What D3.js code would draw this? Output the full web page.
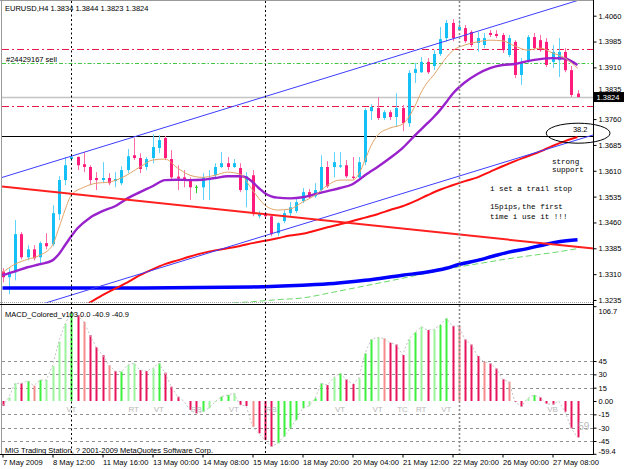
<!DOCTYPE html>
<meta charset="utf-8">
<style type="text/css">
	body { margin: 0; background: #ffffff; }
	svg { display: block; }
	text {
		font-family: "Liberation Sans", Arial, sans-serif;
		font-size: 7.5px;
		fill: #000000;
	}
	.note-text {
		font-family: "Liberation Mono", monospace;
		font-size: 7.6px;
	}
	.axis path { display: none; }
	.axis line { stroke: #000000; }
	.date-axis text { font-size: 7.6px; }
	.mark-text { fill: #b8b8b8; font-size: 8px; }
</style>

<div class="vis-chart"></div>

<script src="https://d3js.org/d3.v7.min.js"></script>
<script>

// ---- //
// Data //
// ---- //

// EURUSD H4 candles, bar 0 = 7 May 2009 04:00
const open = [1.3318, 1.3301, 1.3315, 1.3426, 1.3359, 1.3382, 1.3359, 1.3400, 1.3397, 1.3484,
	1.3583, 1.3644, 1.3650, 1.3629, 1.3621, 1.3589, 1.3583, 1.3589, 1.3580, 1.3574,
	1.3612, 1.3655, 1.3647, 1.3621, 1.3647, 1.3676, 1.3705, 1.3644, 1.3593, 1.3591,
	1.3586, 1.3562, 1.3562, 1.3583, 1.3597, 1.3621, 1.3632, 1.3621, 1.3618, 1.3554,
	1.3597, 1.3478, 1.3487, 1.3478, 1.3429, 1.3464, 1.3487, 1.3493, 1.3522, 1.3548,
	1.3536, 1.3554, 1.3621, 1.3621, 1.3622, 1.3626, 1.3593, 1.3591, 1.3635, 1.3783,
	1.3792, 1.3763, 1.3780, 1.3766, 1.3792, 1.3748, 1.3894, 1.3896, 1.3926, 1.3914,
	1.3949, 1.3995, 1.4039, 1.4018, 1.4024, 1.4013, 1.3981, 1.3975, 1.4010, 1.4007,
	1.4004, 1.3946, 1.3984, 1.3888, 1.3926, 1.3998, 1.3989, 1.3984, 1.3926, 1.3931,
	1.3955, 1.3902, 1.3834];
const high = [1.3327, 1.3327, 1.3467, 1.3432, 1.3394, 1.3394, 1.3405, 1.3429, 1.3510, 1.3594,
	1.3650, 1.3658, 1.3652, 1.3664, 1.3626, 1.3606, 1.3635, 1.3603, 1.3606, 1.3623,
	1.3673, 1.3705, 1.3661, 1.3650, 1.3716, 1.3713, 1.3711, 1.3670, 1.3626, 1.3612,
	1.3591, 1.3568, 1.3603, 1.3612, 1.3632, 1.3664, 1.3650, 1.3644, 1.3632, 1.3606,
	1.3612, 1.3493, 1.3490, 1.3484, 1.3461, 1.3496, 1.3519, 1.3528, 1.3560, 1.3557,
	1.3574, 1.3655, 1.3638, 1.3664, 1.3664, 1.3641, 1.3650, 1.3650, 1.3792, 1.3803,
	1.3824, 1.3786, 1.3786, 1.3835, 1.3801, 1.3902, 1.3923, 1.3940, 1.3937, 1.3960,
	1.4027, 1.4048, 1.4050, 1.4048, 1.4033, 1.4018, 1.4013, 1.4010, 1.4018, 1.4018,
	1.4010, 1.4004, 1.3989, 1.3937, 1.4004, 1.4010, 1.4004, 1.3995, 1.3975, 1.3995,
	1.3966, 1.3914, 1.3844];
const low = [1.3286, 1.3252, 1.3292, 1.3353, 1.3350, 1.3350, 1.3336, 1.3382, 1.3391, 1.3467,
	1.3568, 1.3638, 1.3612, 1.3606, 1.3568, 1.3554, 1.3574, 1.3568, 1.3562, 1.3568,
	1.3603, 1.3641, 1.3603, 1.3612, 1.3632, 1.3661, 1.3641, 1.3586, 1.3554, 1.3562,
	1.3525, 1.3545, 1.3525, 1.3525, 1.3591, 1.3618, 1.3612, 1.3618, 1.3548, 1.3504,
	1.3478, 1.3472, 1.3472, 1.3420, 1.3420, 1.3458, 1.3478, 1.3487, 1.3516, 1.3528,
	1.3531, 1.3548, 1.3560, 1.3591, 1.3618, 1.3589, 1.3583, 1.3583, 1.3626, 1.3757,
	1.3757, 1.3757, 1.3757, 1.3737, 1.3725, 1.3737, 1.3865, 1.3894, 1.3891, 1.3902,
	1.3943, 1.3984, 1.3986, 1.4016, 1.3981, 1.3969, 1.3955, 1.3966, 1.3998, 1.3995,
	1.3952, 1.3940, 1.3879, 1.3859, 1.3923, 1.3960, 1.3955, 1.3911, 1.3908, 1.3882,
	1.3896, 1.3824, 1.3823];
const close = [1.3301, 1.3315, 1.3426, 1.3359, 1.3382, 1.3356, 1.3400, 1.3391, 1.3487, 1.3583,
	1.3626, 1.3650, 1.3626, 1.3621, 1.3583, 1.3583, 1.3589, 1.3574, 1.3586, 1.3612,
	1.3652, 1.3647, 1.3615, 1.3644, 1.3679, 1.3699, 1.3647, 1.3591, 1.3587, 1.3586,
	1.3562, 1.3562, 1.3591, 1.3589, 1.3621, 1.3632, 1.3621, 1.3632, 1.3554, 1.3594,
	1.3484, 1.3487, 1.3478, 1.3426, 1.3458, 1.3487, 1.3504, 1.3519, 1.3548, 1.3533,
	1.3554, 1.3621, 1.3565, 1.3635, 1.3626, 1.3594, 1.3589, 1.3635, 1.3786, 1.3795,
	1.3763, 1.3780, 1.3766, 1.3792, 1.3748, 1.3894, 1.3905, 1.3926, 1.3896, 1.3949,
	1.3992, 1.4039, 1.3995, 1.4027, 1.3986, 1.3975, 1.3995, 1.3995, 1.4004, 1.4001,
	1.3960, 1.3995, 1.3888, 1.3926, 1.3998, 1.3966, 1.3960, 1.3917, 1.3955, 1.3955,
	1.3902, 1.3830, 1.3824];

// Moving averages, read at sample bars
const tanBars = [0, 2, 4, 6, 8, 9, 10, 11, 13, 15, 17, 19, 22, 24, 26, 28, 30, 32, 34, 36,
	38, 40, 42, 44, 46, 48, 50, 52, 54, 56, 57, 58, 59, 60, 62, 64, 65, 66, 67, 68,
	69, 70, 72, 74, 76, 78, 80, 82, 84, 86, 88, 90, 92];
const tanVals = [1.3315, 1.3339, 1.3353, 1.3365, 1.3394, 1.3443, 1.3496, 1.3539, 1.3562, 1.3574,
	1.3577, 1.3589, 1.3621, 1.3641, 1.3644, 1.3618, 1.3597, 1.3591, 1.3597, 1.3606,
	1.3600, 1.3554, 1.3510, 1.3496, 1.3499, 1.3519, 1.3539, 1.3568, 1.3583, 1.3583,
	1.3600, 1.3641, 1.3684, 1.3713, 1.3734, 1.3745, 1.3766, 1.3798, 1.3838, 1.3867,
	1.3888, 1.3914, 1.3958, 1.3975, 1.3984, 1.3989, 1.3987, 1.3972, 1.3960, 1.3966,
	1.3952, 1.3937, 1.3908];

const purpleBars = [0, 2, 4, 6, 8, 9, 10, 11, 12, 14, 16, 18, 20, 22, 24, 26, 28, 30, 32, 34,
	36, 38, 39, 40, 41, 42, 43, 44, 46, 48, 50, 52, 54, 56, 57, 58, 59, 60, 62, 64,
	66, 68, 69, 70, 71, 72, 74, 76, 78, 80, 82, 84, 86, 88, 90, 91, 92];
const purpleVals = [1.3307, 1.3318, 1.3330, 1.3339, 1.3350, 1.3368, 1.3394, 1.3420, 1.3443, 1.3474,
	1.3493, 1.3507, 1.3530, 1.3548, 1.3565, 1.3583, 1.3584, 1.3583, 1.3584, 1.3589,
	1.3594, 1.3594, 1.3591, 1.3577, 1.3560, 1.3545, 1.3536, 1.3532, 1.3530, 1.3533,
	1.3542, 1.3551, 1.3560, 1.3571, 1.3583, 1.3597, 1.3609, 1.3621, 1.3647, 1.3676,
	1.3713, 1.3748, 1.3766, 1.3786, 1.3809, 1.3833, 1.3867, 1.3891, 1.3908, 1.3917,
	1.3920, 1.3928, 1.3934, 1.3937, 1.3936, 1.3928, 1.3917];

const redBars = [12, 14, 16, 18, 20, 22, 24, 26, 28, 30, 32, 34, 36, 38, 40, 42, 44, 46, 48, 50,
	52, 54, 56, 58, 60, 62, 64, 66, 68, 70, 72, 74, 76, 78, 80, 82, 84, 86, 88, 90, 92];
const redVals = [1.3208, 1.3228, 1.3249, 1.3268, 1.3286, 1.3307, 1.3324, 1.3339, 1.3350, 1.3361,
	1.3371, 1.3379, 1.3385, 1.3392, 1.3400, 1.3407, 1.3414, 1.3422, 1.3427, 1.3436,
	1.3446, 1.3455, 1.3464, 1.3474, 1.3484, 1.3496, 1.3507, 1.3522, 1.3539, 1.3555,
	1.3568, 1.3580, 1.3591, 1.3607, 1.3623, 1.3638, 1.3652, 1.3666, 1.3682, 1.3696, 1.3708];

const blueBars = [0, 20, 40, 48, 53, 58, 64, 68, 71, 73, 76, 79, 81, 84, 87, 89, 92];
const blueVals = [1.3270, 1.3270, 1.3273, 1.3278, 1.3283, 1.3292, 1.3307, 1.3316, 1.3327, 1.3338,
	1.3350, 1.3365, 1.3374, 1.3384, 1.3397, 1.3404, 1.3410];

const greenBars = [34, 36, 40, 44, 48, 53, 58, 64, 69, 73, 77, 81, 85, 89, 92];
const greenVals = [1.3220, 1.3225, 1.3230, 1.3236, 1.3241, 1.3258, 1.3276, 1.3298, 1.3317, 1.3331,
	1.3343, 1.3355, 1.3365, 1.3375, 1.3384];

// Drawn objects: [bar, price] anchor pairs
const channelUp = [[0, 1.3591], [92, 1.4104]];
const channelDown = [[0, 1.3188], [92, 1.3700]];
const redTrend = [[0, 1.3564], [92, 1.3389]];
const ellipseCorners = [[87, 1.3748], [97.2, 1.3690]];
const orderPrices = [1.3962, 1.3922, 1.3798];
const orderKinds = ["red", "green", "red"];
const bidPrice = 1.3824;
const fibPrice = 1.3711;
const fibLabel = "38.2";
const orderLabel = "#24429167 sell";

const separatorBars = [11, 42, 73];

const noteLines = ["strong", "support", "i set a trail stop", "15pips,the first", "time i use it !!!"];
const noteBars = [87.9, 87.9, 78, 78, 78];
const notePrices = [1.3629, 1.3606, 1.3552, 1.3500, 1.3471];

// Axis ticks
const priceTicks = [1.4060, 1.3985, 1.3910, 1.3835, 1.3760, 1.3685, 1.3610, 1.3535, 1.3460, 1.3385, 1.3310, 1.3235];
const dateBars = [0, 8, 16, 24, 32, 40, 48, 56, 64, 72, 80, 88];
const dateLabels = ["7 May 2009", "8 May 12:00", "11 May 16:00", "13 May 00:00", "14 May 08:00", "15 May 16:00",
	"18 May 20:00", "20 May 04:00", "21 May 12:00", "22 May 20:00", "26 May 00:00", "27 May 08:00"];

// MACD_Colored histogram
const macd = [-5.6, 4, 19.9, 19.9, 22.5, 17.2, 23.6, 23.6, 39.4, 66.7,
	86.6, 99.4, 96.7, 89.2, 74.2, 60.4, 51.7, 40.5, 33.7, 33,
	40.5, 42.4, 34.9, 33.7, 36.7, 42.4, 31.9, 16.1, 4.9, 0,
	-10.1, -13.9, -12, -8.2, -1, 4.9, 6.7, 8.6, -4.5, -5.6,
	-28.9, -36.4, -43.9, -51.4, -47.6, -40.1, -30.7, -21.3, -8.2, -5.6,
	3, 19.9, 18, 26.6, 31.1, 24.4, 19.1, 25.5, 53.6, 69.4,
	71.6, 70.5, 65.6, 63.7, 51.7, 69.4, 77.2, 83.6, 79.9, 80.6,
	85.5, 93, 84.4, 84.4, 69.4, 63.7, 50.6, 44.2, 42.4, 36.7,
	24.4, 21.8, -1, -6.4, 3, 6.7, 4.1, -3, -4, 0,
	-12, -30.7, -40.9];
const macdShade = ["R", "g", "g", "R", "G", "r", "G", "g", "g", "g",
	"g", "G", "R", "r", "R", "R", "R", "r", "R", "G",
	"g", "g", "R", "R", "g", "G", "R", "R", "R", "R",
	"R", "R", "G", "g", "g", "G", "G", "g", "R", "R",
	"r", "R", "R", "R", "G", "G", "G", "G", "G", "g",
	"G", "G", "R", "g", "G", "R", "R", "g", "G", "G",
	"g", "r", "R", "R", "R", "g", "G", "g", "R", "g",
	"G", "G", "R", "r", "R", "R", "R", "r", "R", "R",
	"R", "r", "R", "R", "g", "G", "R", "R", "R", "R",
	"R", "R", "R"];
const macdLevels = [45, 30, 15, -15, -30, -45];
const macdTicks = [106.7, 45, 30, 15, 0, -15, -30, -45, -59.4];
const markBars = [11, 21, 25, 31, 37, 43, 54, 60, 64, 67, 71, 88];
const markTexts = ["VT", "RT", "VT", "RB", "VT", "RB", "VT", "VT", "TC", "RT", "VT", "VB"];

// ----- //
// Setup //
// ----- //

const width = 625, height = 469;
const plotLeft = 2, plotRight = 593.5;
const mainTop = 1, mainBottom = 303;
const subTop = 306, subBottom = 454.5;

const colors = {
	bull: "#14c0f6", bear: "#ff1c7c",
	bullWick: "#5fd3fa", bearWick: "#ff6aa8",
	doji: "#22cc22",
	G: "#3cf03c", g: "#9cf59c", R: "#e8145a", r: "#f48c8c"
};

// Scales
let x = d3.scaleLinear().domain([0, 92]).range([2.5, 577.5]);
let y = d3.scaleLinear().domain([1.3235, 1.4060]).range([300, 15.7]);
let yM = d3.scaleLinear().domain([-59.4, 106.7]).range([453.8, 306.2]);

let svg = d3.select(".vis-chart")
	.append("svg")
		.attr("width", width)
		.attr("height", height);

svg.append("rect")
	.attr("width", width)
	.attr("height", height)
	.attr("fill", "#ffffff");

let defs = svg.append("defs");
defs.append("clipPath").attr("id", "clip-main")
	.append("rect")
		.attr("x", plotLeft).attr("y", mainTop)
		.attr("width", plotRight - plotLeft).attr("height", mainBottom - mainTop);
defs.append("clipPath").attr("id", "clip-sub")
	.append("rect")
		.attr("x", plotLeft).attr("y", subTop)
		.attr("width", plotRight - plotLeft).attr("height", subBottom - subTop);

let main = svg.append("g").attr("clip-path", "url(#clip-main)");
let sub = svg.append("g").attr("clip-path", "url(#clip-sub)");

// line through two anchors, stretched over the whole plot width
function ray(p) {
	let x1 = x(p[0][0]), y1 = y(p[0][1]), x2 = x(p[1][0]), y2 = y(p[1][1]);
	let k = (y2 - y1) / (x2 - x1);
	return [plotLeft, y1 + k * (plotLeft - x1), plotRight, y1 + k * (plotRight - x1)];
}

// ----------------- //
// Background lines  //
// ----------------- //

// Week separators
svg.selectAll(".sep")
	.data(separatorBars)
	.enter().append("line")
		.attr("class", "sep")
		.attr("x1", d => Math.round(x(d)) + 0.5)
		.attr("x2", d => Math.round(x(d)) + 0.5)
		.attr("y1", mainTop)
		.attr("y2", subBottom)
		.attr("stroke", (d, i) => i == 2 ? "#8c8c8c" : "#000000")
		.attr("stroke-width", (d, i) => i == 2 ? 1.6 : 1)
		.attr("stroke-dasharray", (d, i) => i == 2 ? "2,2" : "2,2.5");

// Order lines
main.selectAll(".order")
	.data(orderPrices)
	.enter().append("line")
		.attr("x1", plotLeft).attr("x2", plotRight)
		.attr("y1", d => Math.round(y(d)) + 0.5)
		.attr("y2", d => Math.round(y(d)) + 0.5)
		.attr("stroke", (d, i) => orderKinds[i] == "red" ? "#e81848" : "#44c444")
		.attr("stroke-dasharray", (d, i) => orderKinds[i] == "red" ? "7,3,2,3" : "4,2,1.5,2");

// Bid line
main.append("line")
	.attr("x1", plotLeft).attr("x2", plotRight)
	.attr("y1", y(bidPrice) + 0.5).attr("y2", y(bidPrice) + 0.5)
	.attr("stroke", "#c4c4c4")
	.attr("stroke-width", 1.6);

// Fibo level
main.append("line")
	.attr("x1", plotLeft).attr("x2", plotRight)
	.attr("y1", Math.round(y(fibPrice)) + 0.5).attr("y2", Math.round(y(fibPrice)) + 0.5)
	.attr("stroke", "#000000");

// ------- //
// Candles //
// ------- //

let candles = open.map((o, i) => ({ i: i, o: o, h: high[i], l: low[i], c: close[i] }));

main.selectAll(".wick")
	.data(candles)
	.enter().append("line")
		.attr("x1", d => Math.round(x(d.i)) + 0.5)
		.attr("x2", d => Math.round(x(d.i)) + 0.5)
		.attr("y1", d => y(d.h))
		.attr("y2", d => y(d.l))
		.attr("stroke", d => d.c > d.o ? colors.bullWick : d.c < d.o ? colors.bearWick : colors.doji);

main.selectAll(".body")
	.data(candles)
	.enter().append("rect")
		.attr("x", d => Math.round(x(d.i)) - 1)
		.attr("width", 3)
		.attr("y", d => d.c == d.o ? y(d.o) - 0.5 : y(Math.max(d.o, d.c)))
		.attr("height", d => Math.max(1, Math.abs(y(d.o) - y(d.c))))
		.attr("fill", d => d.c > d.o ? colors.bull : d.c < d.o ? colors.bear : colors.doji);

// ------------------ //
// Moving averages    //
// ------------------ //

let maLine = d3.line()
	.x(d => x(d[0]))
	.y(d => y(d[1]))
	.curve(d3.curveMonotoneX);

main.append("path")
	.datum(d3.zip(greenBars, greenVals))
	.attr("d", maLine)
	.attr("fill", "none")
	.attr("stroke", "#6cd86c")
	.attr("stroke-dasharray", "6,3");

main.append("path")
	.datum(d3.zip(blueBars, blueVals))
	.attr("d", maLine)
	.attr("fill", "none")
	.attr("stroke", "#0000ff")
	.attr("stroke-width", 3.5);

main.append("path")
	.datum(d3.zip(redBars, redVals))
	.attr("d", maLine)
	.attr("fill", "none")
	.attr("stroke", "#ff1010")
	.attr("stroke-width", 2);

main.append("path")
	.datum(d3.zip(purpleBars, purpleVals))
	.attr("d", maLine)
	.attr("fill", "none")
	.attr("stroke", "#9a22cc")
	.attr("stroke-width", 2.4);

main.append("path")
	.datum(d3.zip(tanBars, tanVals))
	.attr("d", maLine)
	.attr("fill", "none")
	.attr("stroke", "#e0a468")
	.attr("stroke-width", 1);

// ------------- //
// Trend objects //
// ------------- //

[channelUp, channelDown].forEach(p => {
	let r = ray(p);
	main.append("line")
		.attr("x1", r[0]).attr("y1", r[1]).attr("x2", r[2]).attr("y2", r[3])
		.attr("stroke", "#3c3cff");
});

let rt = ray(redTrend);
main.append("line")
	.attr("x1", rt[0]).attr("y1", rt[1]).attr("x2", rt[2]).attr("y2", rt[3])
	.attr("stroke", "#ff2020")
	.attr("stroke-width", 2);

// Ellipse (drawn over the price scale like in the terminal)
let ex = ellipseCorners.map(d => x(d[0])), ey = ellipseCorners.map(d => y(d[1]));
svg.append("ellipse")
	.attr("cx", (ex[0] + ex[1]) / 2)
	.attr("cy", (ey[0] + ey[1]) / 2)
	.attr("rx", Math.abs(ex[1] - ex[0]) / 2)
	.attr("ry", Math.abs(ey[1] - ey[0]) / 2)
	.attr("fill", "none")
	.attr("stroke", "#000000");

// TEXTS
main.append("text")
	.attr("x", plotRight - 6)
	.attr("y", y(fibPrice) - 4)
	.style("text-anchor", "end")
	.text(fibLabel);

main.append("text")
	.attr("x", plotLeft + 4)
	.attr("y", y(orderPrices[1]) - 1.5)
	.text(orderLabel);

main.selectAll(".note-text")
	.data(noteLines)
	.enter().append("text")
		.attr("class", "note-text")
		.attr("x", (d, i) => x(noteBars[i]))
		.attr("y", (d, i) => y(notePrices[i]))
		.text(d => d);

let last = open.length - 1;
svg.append("text")
	.attr("x", 5)
	.attr("y", 10.7)
	.text("EURUSD,H4  " + [open[last], high[last], low[last], close[last]].map(v => v.toFixed(4)).join(" "));

// ---- //
// MACD //
// ---- //

sub.selectAll(".level")
	.data(macdLevels)
	.enter().append("line")
		.attr("x1", plotLeft).attr("x2", plotRight)
		.attr("y1", d => Math.round(yM(d)) + 0.5)
		.attr("y2", d => Math.round(yM(d)) + 0.5)
		.attr("stroke", "#909090")
		.attr("stroke-dasharray", "3,3");

sub.selectAll(".hist")
	.data(macd)
	.enter().append("rect")
		.attr("x", (d, i) => Math.round(x(i)) - 0.5)
		.attr("width", 2)
		.attr("y", d => Math.min(yM(0), yM(d)))
		.attr("height", d => Math.abs(yM(d) - yM(0)))
		.attr("fill", (d, i) => colors[macdShade[i]]);

sub.append("path")
	.datum(macd)
	.attr("d", d3.line().x((d, i) => x(i)).y(d => yM(d)))
	.attr("fill", "none")
	.attr("stroke", "#c4c4c4")
	.attr("stroke-dasharray", "2,2");

sub.selectAll(".mark-text")
	.data(markTexts)
	.enter().append("text")
		.attr("class", "mark-text")
		.attr("x", (d, i) => x(markBars[i]))
		.attr("y", yM(0) + 11)
		.style("text-anchor", "middle")
		.text(d => d);

svg.append("text")
	.attr("class", "mark-text")
	.attr("x", x(93))
	.attr("y", yM(-30) + 2)
	.style("font-size", "10px")
	.style("text-anchor", "middle")
	.text("59");

svg.append("text")
	.attr("x", 5)
	.attr("y", 316.8)
	.text("MACD_Colored_v103 0.0 " + macd[last].toFixed(1) + " " + macd[last].toFixed(1));

svg.append("text")
	.attr("x", 5)
	.attr("y", 452.5)
	.text("MIG Trading Station, ? 2001-2009 MetaQuotes Software Corp.");

// ----- //
// Frame //
// ----- //

svg.append("line").attr("x1", 1.5).attr("x2", 1.5).attr("y1", 0).attr("y2", subBottom)
	.attr("stroke", "#9a9a9a");
svg.append("line").attr("x1", 0).attr("x2", plotRight).attr("y1", 0.5).attr("y2", 0.5)
	.attr("stroke", "#9a9a9a");
svg.append("line").attr("x1", 0).attr("x2", plotRight).attr("y1", 302.5).attr("y2", 302.5)
	.attr("stroke", "#a8a8a8").attr("stroke-dasharray", "1,1");
svg.append("line").attr("x1", 0).attr("x2", plotRight).attr("y1", 304.5).attr("y2", 304.5)
	.attr("stroke", "#000000");
svg.append("line").attr("x1", 0).attr("x2", plotRight + 0.5).attr("y1", subBottom).attr("y2", subBottom)
	.attr("stroke", "#000000");
svg.append("line").attr("x1", plotRight).attr("x2", plotRight).attr("y1", 0).attr("y2", subBottom)
	.attr("stroke", "#000000");

// AXES
let priceAxis = svg.append("g")
	.attr("class", "axis")
	.attr("transform", "translate(" + plotRight + ",0)")
	.call(d3.axisRight(y).tickValues(priceTicks).tickSize(3).tickPadding(2).tickFormat(d3.format(".4f")));
// the 1.3835 label sits under the current price box; keep only its top edge showing
priceAxis.selectAll("text")
	.filter(d => Math.abs(d - bidPrice) < 0.0015)
	.attr("dy", "-0.25em");

let macdAxis = svg.append("g")
	.attr("class", "axis")
	.attr("transform", "translate(" + plotRight + ",0)")
	.call(d3.axisRight(yM).tickValues(macdTicks).tickSize(3).tickPadding(2)
		.tickFormat(d => d == 0 ? "0.00" : (Number.isInteger(d) ? d : d.toFixed(1))));
macdAxis.selectAll("text")
	.attr("dy", d => d == macdTicks[0] ? "0.95em" : d == macdTicks[macdTicks.length - 1] ? "0em" : "0.32em");

svg.append("g")
	.attr("class", "axis date-axis")
	.attr("transform", "translate(0," + subBottom + ")")
	.call(d3.axisBottom(x).tickValues(dateBars).tickSize(3).tickPadding(2)
		.tickFormat((d, i) => dateLabels[i]))
	.selectAll("text")
		.style("text-anchor", "start");

// Current price box
svg.append("rect")
	.attr("x", plotRight + 0.5)
	.attr("y", y(bidPrice) - 5)
	.attr("width", 30)
	.attr("height", 10)
	.attr("fill", "#000000");
svg.append("text")
	.attr("x", plotRight + 3)
	.attr("y", y(bidPrice) + 2.7)
	.style("fill", "#ffffff")
	.text(close[last].toFixed(4));

</script>
